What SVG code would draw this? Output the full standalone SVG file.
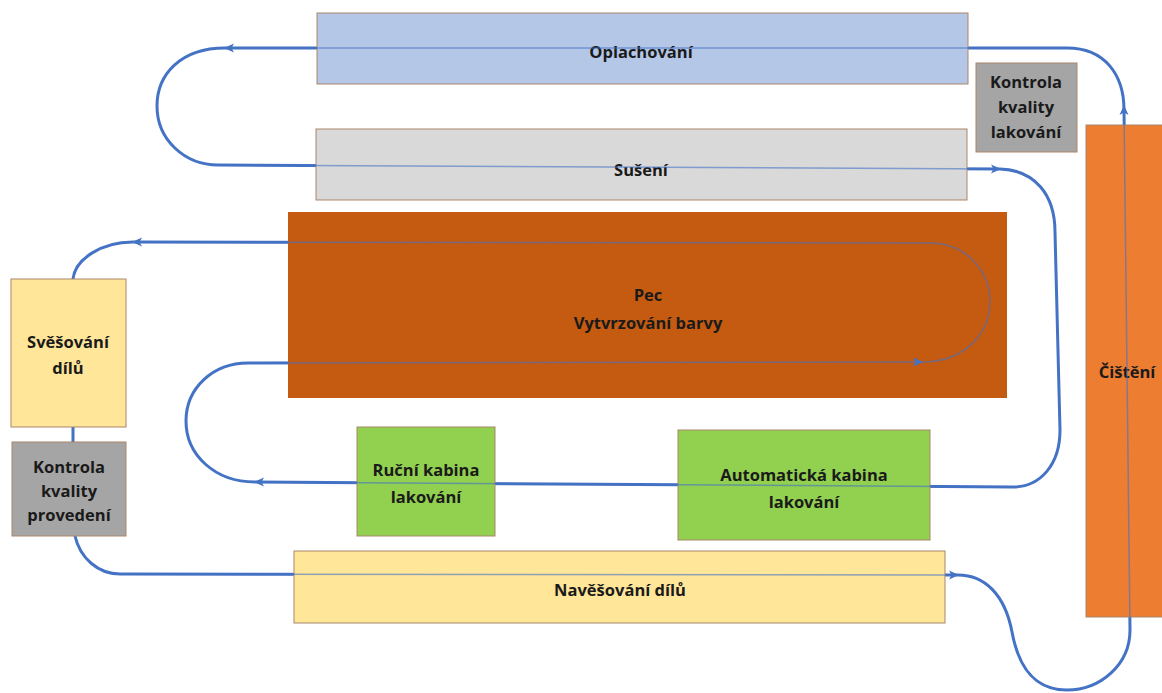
<svg xmlns="http://www.w3.org/2000/svg" width="1162" height="693" viewBox="0 0 1162 693">
<defs>
<marker id="ah" markerUnits="userSpaceOnUse" markerWidth="12" markerHeight="12" viewBox="0 0 12 12" refX="10" refY="6" orient="auto">
<path d="M1,1.5 L11,6 L1,10.5 L3.5,6 Z" fill="#4472c4"/>
</marker>
<style>
.box{stroke:#a9866b;stroke-width:1}
.t{font-family:"Open Sans","Liberation Sans",sans-serif;font-weight:bold;font-size:16.5px;fill:#1a1a1a;text-anchor:middle}
.thick{fill:none;stroke:#4472c4;stroke-width:3}
.thin{fill:none;stroke:#4472c4;stroke-width:1.5;stroke-opacity:0.6}
</style>
</defs>
<rect width="1162" height="693" fill="#ffffff"/>
<g id="connectors-under">
<path class="thick" d="M958,575 C985,575 1005,595 1012,632 C1020,675 1040,690 1067,690 C1100,690 1130,665 1130,630 L1124,110 C1124,75 1105,48 1067,48 L225,48 C180,48 157,75 157,106 C157,140 185,165 218,165 L1000,169 C1035,170 1055,195 1055,232 L1060,430 C1060,465 1040,487 1013,487 L255,482 C215,482 186,455 186,421 C186,388 213,363 248,363 L922,362 C965,362 990,333 990,302 C990,270 965,243 930,243 L133,242 C100,242 75,260 73,279 L73,442 M75,536 C80,558 98,574 120,574 L958,575"/>
</g>
<g id="oplachovani"><rect class="box" x="317" y="13" width="651" height="71" fill="#b4c7e7"/><text class="t" x="641" y="58">Oplachování</text></g>
<g id="kontrola-lakovani"><rect class="box" x="976" y="63" width="101" height="89" fill="#a5a5a5"/><text class="t" x="1026" y="88">Kontrola</text><text class="t" x="1026" y="113">kvality</text><text class="t" x="1026" y="138">lakování</text></g>
<g id="suseni"><rect class="box" x="316" y="129" width="651" height="71" fill="#d9d9d9"/><text class="t" x="641" y="176">Sušení</text></g>
<g id="pec"><rect x="288" y="212" width="719" height="186" fill="#c55a11"/><text class="t" x="648" y="301">Pec</text><text class="t" x="648" y="329">Vytvrzování barvy</text></g>
<g id="svesovani"><rect class="box" x="11" y="279" width="115" height="148" fill="#ffe699"/><text class="t" x="68" y="348">Svěšování</text><text class="t" x="68" y="374">dílů</text></g>
<g id="kontrola-provedeni"><rect class="box" x="12" y="442" width="114" height="94" fill="#a5a5a5"/><text class="t" x="69" y="473">Kontrola</text><text class="t" x="69" y="497">kvality</text><text class="t" x="69" y="521">provedení</text></g>
<g id="rucni-kabina"><rect class="box" x="357" y="427" width="138" height="109" fill="#92d050"/><text class="t" x="426" y="476">Ruční kabina</text><text class="t" x="426" y="503">lakování</text></g>
<g id="automaticka-kabina"><rect class="box" x="678" y="430" width="252" height="110" fill="#92d050"/><text class="t" x="804" y="481">Automatická kabina</text><text class="t" x="804" y="508">lakování</text></g>
<g id="navesovani"><rect class="box" x="294" y="551" width="651" height="72" fill="#ffe699"/><text class="t" x="620" y="596">Navěšování dílů</text></g>
<g id="cisteni"><rect class="box" x="1086" y="125" width="90" height="492" fill="#ed7d31"/><text class="t" x="1127" y="378">Čištění</text></g>
<g id="connectors">
<path class="thin" d="M1130,630 L1124,110 M1067,48 L225,48 M218,165 L1000,169 M1013,487 L255,482 M248,363 L922,362 C965,362 990,333 990,302 C990,270 965,243 930,243 L133,242 M120,574 L958,575"/>
<path fill="none" stroke="none" d="M1124,140 L1124,106" marker-end="url(#ah)"/>
<path fill="none" stroke="none" d="M260,48 L225,48" marker-end="url(#ah)"/>
<path fill="none" stroke="none" d="M960,168.8 L1000,169" marker-end="url(#ah)"/>
<path fill="none" stroke="none" d="M290,482.2 L255,482" marker-end="url(#ah)"/>
<path fill="none" stroke="none" d="M900,362 L922,362" marker-end="url(#ah)"/>
<path fill="none" stroke="none" d="M170,242 L133,242" marker-end="url(#ah)"/>
<path fill="none" stroke="none" d="M930,575 L958,575" marker-end="url(#ah)"/>
</g>
</svg>
